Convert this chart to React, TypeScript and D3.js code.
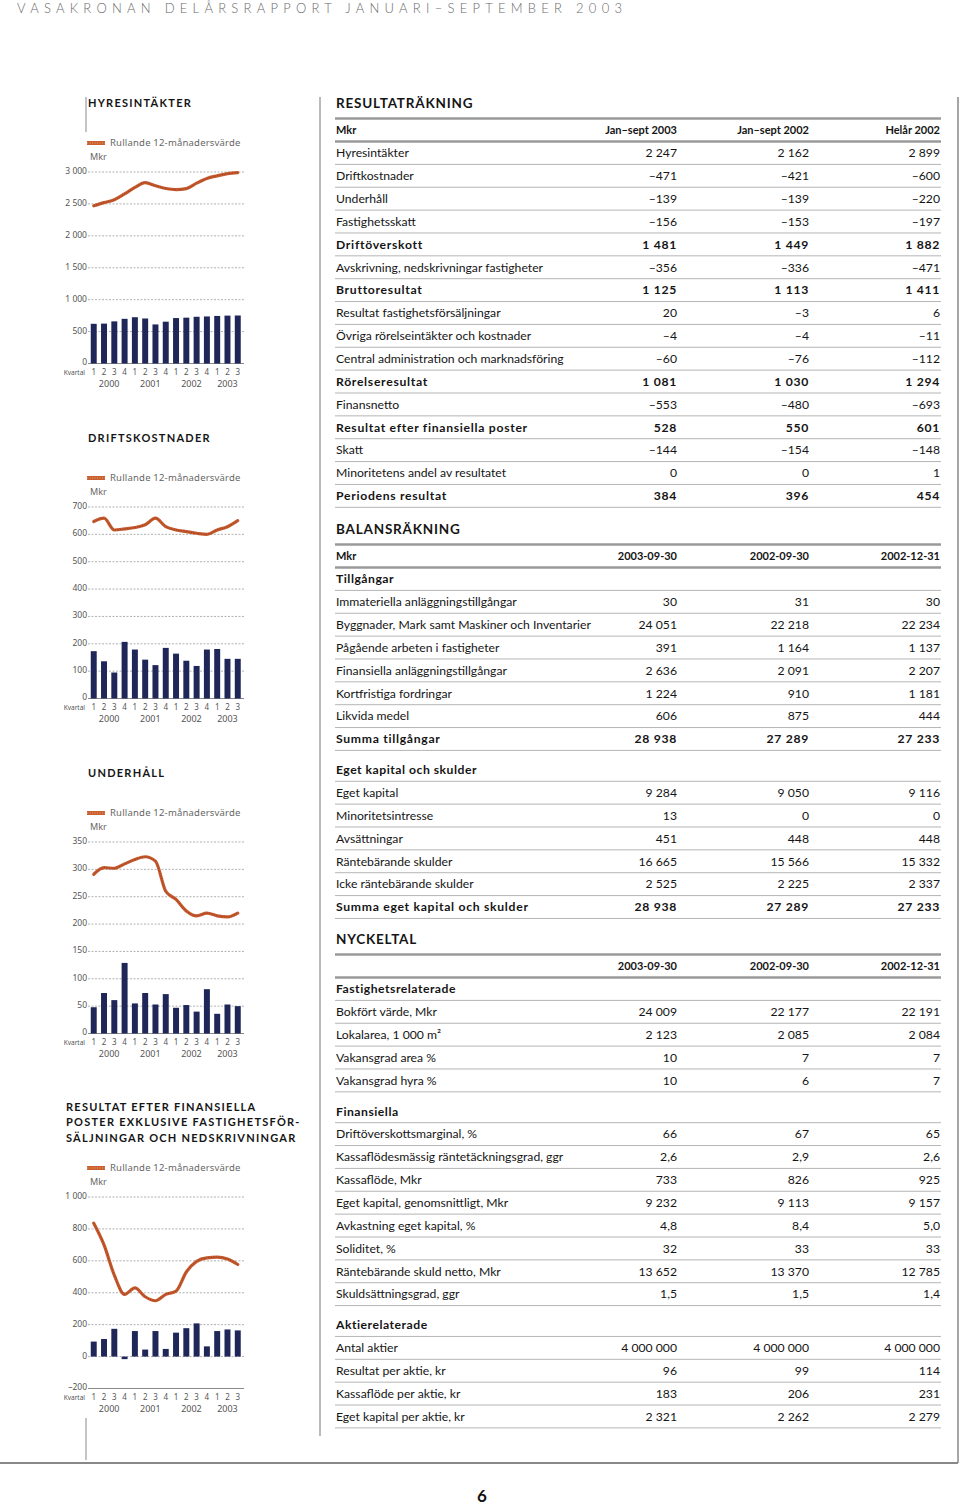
import React from 'react';
import * as d3 from 'd3';

// ---------- mini chart data ----------
const quarterLabels = ["1","2","3","4","1","2","3","4","1","2","3","4","1","2","3"];
const yearLabels = ["2000","2001","2002","2003"];
const yearGroups = [[0,3],[4,7],[8,11],[12,14]];

const hyresBars = [622, 625, 660, 700, 725, 705, 612, 655, 712, 718, 732, 737, 745, 750, 752];
const hyresLine = [2470, 2520, 2566, 2657, 2758, 2833, 2785, 2742, 2725, 2740, 2825, 2899, 2940, 2975, 2990];
const hyresTicks = [0, 500, 1000, 1500, 2000, 2500, 3000];

const driftBars = [173, 136, 95, 207, 179, 142, 122, 185, 164, 138, 119, 179, 181, 145, 145];
const driftLine = [647, 659, 616, 620, 625, 635, 659, 628, 616, 610, 604, 600, 616, 628, 650];
const driftTicks = [0, 100, 200, 300, 400, 500, 600, 700];

const underBars = [48, 74, 61, 129, 55, 74, 53, 72, 47, 52, 40, 81, 36, 53, 50];
const underLine = [291, 303, 302, 310, 318, 323, 315, 260, 245, 224, 215, 220, 215, 213, 220];
const underTicks = [0, 50, 100, 150, 200, 250, 300, 350];

const resBars = [94, 110, 174, -16, 160, 44, 160, 48, 150, 178, 208, 64, 160, 170, 164];
const resLine = [836, 700, 510, 390, 430, 375, 350, 390, 410, 530, 597, 619, 623, 611, 577];
const resTicks = [-200, 0, 200, 400, 600, 800, 1000];

const legendText = "Rullande 12-månadersvärde";

// ---------- table data ----------
const resultLabels = ["Hyresintäkter","Driftkostnader","Underhåll","Fastighetsskatt","Driftöverskott","Avskrivning, nedskrivningar fastigheter","Bruttoresultat","Resultat fastighetsförsäljningar","Övriga rörelseintäkter och kostnader","Central administration och marknadsföring","Rörelseresultat","Finansnetto","Resultat efter finansiella poster","Skatt","Minoritetens andel av resultatet","Periodens resultat"];
const result2003 = [2247,-471,-139,-156,1481,-356,1125,20,-4,-60,1081,-553,528,-144,0,384];
const result2002 = [2162,-421,-139,-153,1449,-336,1113,-3,-4,-76,1030,-480,550,-154,0,396];
const resultFull = [2899,-600,-220,-197,1882,-471,1411,6,-11,-112,1294,-693,601,-148,1,454];
const resultBold = [4,6,10,12,15];
const resultHeaders = ["Jan–sept 2003","Jan–sept 2002","Helår 2002"];

const balHeaders = ["2003-09-30","2002-09-30","2002-12-31"];
const assetLabels = ["Immateriella anläggningstillgångar","Byggnader, Mark samt Maskiner och Inventarier","Pågående arbeten i fastigheter","Finansiella anläggningstillgångar","Kortfristiga fordringar","Likvida medel","Summa tillgångar"];
const asset1 = [30,24051,391,2636,1224,606,28938];
const asset2 = [31,22218,1164,2091,910,875,27289];
const asset3 = [30,22234,1137,2207,1181,444,27233];
const equityLabels = ["Eget kapital","Minoritetsintresse","Avsättningar","Räntebärande skulder","Icke räntebärande skulder","Summa eget kapital och skulder"];
const equity1 = [9284,13,451,16665,2525,28938];
const equity2 = [9050,0,448,15566,2225,27289];
const equity3 = [9116,0,448,15332,2337,27233];

const propLabels = ["Bokfört värde, Mkr","Lokalarea, 1 000 m²","Vakansgrad area %","Vakansgrad hyra %"];
const prop1 = [24009,2123,10,10];
const prop2 = [22177,2085,7,6];
const prop3 = [22191,2084,7,7];
const finLabels = ["Driftöverskottsmarginal, %","Kassaflödesmässig räntetäckningsgrad, ggr","Kassaflöde, Mkr","Eget kapital, genomsnittligt, Mkr","Avkastning eget kapital, %","Soliditet, %","Räntebärande skuld netto, Mkr","Skuldsättningsgrad, ggr"];
const fin1 = [66,2.6,733,9232,4.8,32,13652,1.5];
const fin2 = [67,2.9,826,9113,8.4,33,13370,1.5];
const fin3 = [65,2.6,925,9157,5.0,33,12785,1.4];
const finDecimals = [1,4,7];
const shareLabels = ["Antal aktier","Resultat per aktie, kr","Kassaflöde per aktie, kr","Eget kapital per aktie, kr"];
const share1 = [4000000,96,183,2321];
const share2 = [4000000,99,206,2262];
const share3 = [4000000,114,231,2279];

const FONT = "Lato, 'Open Sans', sans-serif";
const CHART_FONT = "'Noto Sans', 'DejaVu Sans', sans-serif";

function fmt(v: number, dec = false): string {
  let s: string;
  if (dec) s = v.toFixed(1).replace(".", ",");
  else s = d3.format(",")(Math.abs(v)).replace(/,/g, " ");
  if (v < 0 && !dec) s = "–" + s;
  return s;
}

type ChartProps = { top: number; bars: number[]; line: number[]; ticks: number[] };

function MiniChart({ top, bars, line, ticks }: ChartProps) {
  const y0 = top + 29;
  const y1 = y0 + 191.5;
  const domain = d3.extent(ticks) as [number, number];
  const y = d3.scaleLinear().domain(domain).range([y1, y0]);
  const x = d3.scaleBand<number>().domain(d3.range(bars.length)).range([89, 242.5]).paddingInner(0.42).paddingOuter(0.17);
  const cx = (i: number) => (x(i) as number) + x.bandwidth() / 2;
  const lineGen = d3.line<number>().x((_, i) => cx(i)).y(d => y(d)).curve(d3.curveMonotoneX);
  const zero = y(Math.max(0, domain[0]));
  return (
    <g>
      <line x1={87} x2={105} y1={top} y2={top} stroke="#c9602f" strokeWidth={4} />
      <line x1={87} x2={105} y1={top} y2={top} stroke="#e8a07a" strokeWidth={1} strokeDasharray="1,1.5" />
      <text x={110} y={top} dy="0.35em" fontSize={9.5} letterSpacing={0.2} fill="#666" fontFamily={CHART_FONT}>{legendText}</text>
      <text x={90} y={top + 14} dy="0.35em" fontSize={9} fill="#666" fontFamily={CHART_FONT}>Mkr</text>
      {ticks.map((t, i) => (
        <g key={i}>
          <line x1={88} x2={244} y1={y(t)} y2={y(t)}
            stroke={i === 0 ? "#8a8a8a" : "#a8a8a8"} strokeWidth={i === 0 ? 1.2 : 0.9}
            strokeDasharray={i === 0 ? undefined : "2,1.5"} />
          <text x={87} y={y(t) - 1} dy="0.35em" textAnchor="end" fontSize={8.5} fill="#555" fontFamily={CHART_FONT}>{fmt(t)}</text>
        </g>
      ))}
      {bars.map((v, i) => (
        <rect key={i} x={x(i)} width={x.bandwidth()} y={Math.min(y(v), zero)} height={Math.abs(y(v) - zero)} fill="#1f2759" />
      ))}
      <path d={lineGen(line) || ""} fill="none" stroke="#c45a2e" strokeWidth={3.2} strokeLinejoin="round" strokeLinecap="round" />
      <path d={lineGen(line) || ""} fill="none" stroke="#8f3216" strokeWidth={0.8} strokeDasharray="1,1.5" />
      <text x={85} y={y1 + 9.5} dy="0.35em" textAnchor="end" fontSize={6.5} fill="#555" fontFamily={CHART_FONT}>Kvartal</text>
      {quarterLabels.map((q, i) => (
        <text key={i} x={cx(i)} y={y1 + 9} dy="0.35em" textAnchor="middle" fontSize={8} fill="#555" fontFamily={CHART_FONT}>{q}</text>
      ))}
      {yearLabels.map((yl, i) => {
        const [a, b] = yearGroups[i];
        return <text key={i} x={(cx(a) + cx(b)) / 2} y={y1 + 20.5} dy="0.35em" textAnchor="middle" fontSize={9} fill="#555" fontFamily={CHART_FONT}>{yl}</text>;
      })}
    </g>
  );
}

type Group = { name?: string; labels: string[]; c1: number[]; c2: number[]; c3: number[]; bold?: number[]; dec?: number[] };

const ROW = 22.86;
const COLS = [677, 809, 940];
const LX = 336;
const FS = 12.2;

function Section({ title, titleY, headerLabel, headers, groups }: { title: string; titleY: number; headerLabel: string; headers: string[]; groups: Group[] }) {
  const headerY = titleY + 27;
  const items: React.ReactNode[] = [];
  let cur = headerY + 23;
  groups.forEach((g, gi) => {
    if (gi > 0) cur += 8;
    if (g.name) {
      items.push(<text key={`gn${gi}`} x={LX} y={cur} dy="0.35em" fontSize={FS} fontWeight={700} letterSpacing={0.5} fill="#151515">{g.name}</text>);
      items.push(<line key={`gl${gi}`} x1={335} x2={941} y1={cur + 11.4} y2={cur + 11.4} stroke="#b5b5b5" strokeWidth={1} />);
      cur += ROW;
    }
    g.labels.forEach((lab, ri) => {
      const b = g.bold?.includes(ri);
      const dec = g.dec?.includes(ri);
      const fw = b ? 700 : 400;
      const ls = b ? 0.7 : 0;
      items.push(
        <g key={`r${gi}-${ri}`}>
          <text x={LX} y={cur} dy="0.35em" fontSize={FS} fontWeight={fw} letterSpacing={ls} fill="#151515">{lab}</text>
          {[g.c1[ri], g.c2[ri], g.c3[ri]].map((v, ci) => (
            <text key={ci} x={COLS[ci]} y={cur} dy="0.35em" textAnchor="end" fontSize={FS} fontWeight={fw} letterSpacing={ls} fill="#151515">{fmt(v, dec)}</text>
          ))}
          <line x1={335} x2={941} y1={cur + 11.4} y2={cur + 11.4} stroke="#b5b5b5" strokeWidth={1} />
        </g>
      );
      cur += ROW;
    });
  });
  return (
    <g fontFamily={FONT}>
      <text x={LX} y={titleY} dy="0.35em" fontSize={13.5} fontWeight={700} letterSpacing={0.8} fill="#151515">{title}</text>
      <line x1={335} x2={941} y1={headerY - 11.5} y2={headerY - 11.5} stroke="#9a9a9a" strokeWidth={2.5} />
      <text x={LX} y={headerY} dy="0.35em" fontSize={11} fontWeight={700} fill="#151515">{headerLabel}</text>
      {headers.map((h, i) => (
        <text key={i} x={COLS[i]} y={headerY} dy="0.35em" textAnchor="end" fontSize={11} fontWeight={700} fill="#151515">{h}</text>
      ))}
      <line x1={335} x2={941} y1={headerY + 11.5} y2={headerY + 11.5} stroke="#9a9a9a" strokeWidth={2.5} />
      {items}
    </g>
  );
}

export default function App() {
  return (
    <svg width={960} height={1506} style={{ position: "absolute", left: 0, top: 0, background: "#fff" }}>
      <rect width={960} height={1506} fill="#fff" />
      <text x={17} y={8} dy="0.35em" fontSize={13} fill="#6a6a6a" fontFamily={FONT} fontWeight={300} textLength={605} lengthAdjust="spacing">VASAKRONAN DELÅRSRAPPORT JANUARI–SEPTEMBER 2003</text>

      {/* frame lines */}
      <line x1={86} x2={86} y1={97} y2={132} stroke="#888" strokeWidth={1} />
      <line x1={86} x2={86} y1={1418} y2={1460} stroke="#888" strokeWidth={1} />
      <line x1={320} x2={320} y1={97} y2={1436} stroke="#777" strokeWidth={1} />
      <line x1={958} x2={958} y1={97} y2={1463} stroke="#888" strokeWidth={1.5} />
      <line x1={0} x2={958} y1={1463} y2={1463} stroke="#888" strokeWidth={2} />

      <MiniChart top={143} bars={hyresBars} line={hyresLine} ticks={hyresTicks} />
      <MiniChart top={478} bars={driftBars} line={driftLine} ticks={driftTicks} />
      <MiniChart top={813} bars={underBars} line={underLine} ticks={underTicks} />
      <MiniChart top={1168} bars={resBars} line={resLine} ticks={resTicks} />

      <g fontFamily={FONT} fontSize={11} fontWeight={700} fill="#151515" letterSpacing={1.25}>
        <text x={88} y={103} dy="0.35em">HYRESINTÄKTER</text>
        <text x={88} y={438} dy="0.35em">DRIFTSKOSTNADER</text>
        <text x={88} y={773} dy="0.35em">UNDERHÅLL</text>
        <text x={66} y={1107} dy="0.35em">RESULTAT EFTER FINANSIELLA</text>
        <text x={66} y={1122} dy="0.35em">POSTER EXKLUSIVE FASTIGHETSFÖR-</text>
        <text x={66} y={1138} dy="0.35em">SÄLJNINGAR OCH NEDSKRIVNINGAR</text>
      </g>

      <Section title="RESULTATRÄKNING" titleY={103} headerLabel="Mkr" headers={resultHeaders}
        groups={[{ labels: resultLabels, c1: result2003, c2: result2002, c3: resultFull, bold: resultBold }]} />
      <Section title="BALANSRÄKNING" titleY={529} headerLabel="Mkr" headers={balHeaders}
        groups={[
          { name: "Tillgångar", labels: assetLabels, c1: asset1, c2: asset2, c3: asset3, bold: [6] },
          { name: "Eget kapital och skulder", labels: equityLabels, c1: equity1, c2: equity2, c3: equity3, bold: [5] },
        ]} />
      <Section title="NYCKELTAL" titleY={939} headerLabel="" headers={balHeaders}
        groups={[
          { name: "Fastighetsrelaterade", labels: propLabels, c1: prop1, c2: prop2, c3: prop3 },
          { name: "Finansiella", labels: finLabels, c1: fin1, c2: fin2, c3: fin3, dec: finDecimals },
          { name: "Aktierelaterade", labels: shareLabels, c1: share1, c2: share2, c3: share3 },
        ]} />

      <text x={482} y={1496} dy="0.35em" textAnchor="middle" fontSize={17} fontWeight={700} fill="#111" fontFamily={FONT}>6</text>
    </svg>
  );
}
